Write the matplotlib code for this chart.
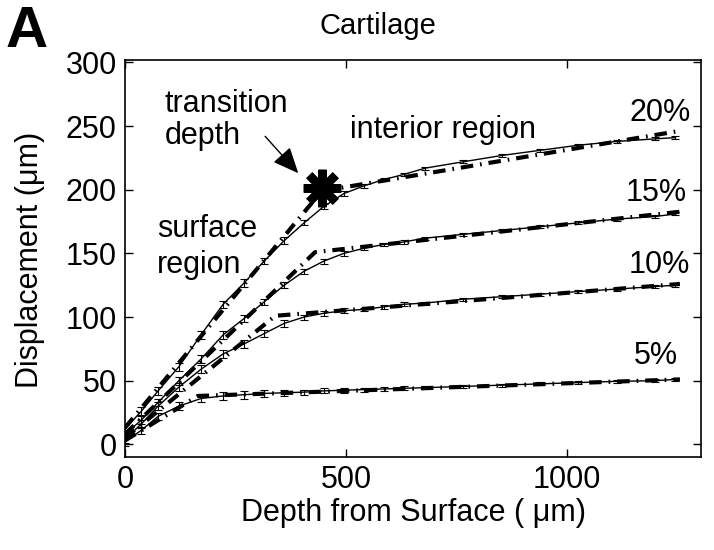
"""Cartilage displacement vs depth, with bilinear fits."""
import matplotlib

matplotlib.use("Agg")
import matplotlib.pyplot as plt

plt.rcParams["font.family"] = ["Liberation Sans", "DejaVu Sans"]
plt.rcParams["lines.scale_dashes"] = False

# Measured displacement (um) at each depth (um)
depth = [0, 37, 75, 122, 172, 222, 270, 315, 360, 405, 450, 495,
         540, 585, 630, 679, 765, 853, 939, 1025, 1113, 1199, 1245]
disp_20 = [12, 26, 42, 61, 86, 110, 127, 144, 160, 174, 187, 197,
           203, 208, 212, 217, 222, 227, 231, 235, 238, 240, 241]
disp_15 = [8, 19, 33, 50, 67, 86, 99, 112, 125, 136, 144, 150,
           154, 157, 159, 162, 165, 168, 171, 174, 177, 179, 181]
disp_10 = [4, 16, 30, 45, 59, 71, 79, 87, 95, 100, 103, 105,
           106, 108, 110, 111, 114, 116, 118, 120, 122, 124, 125]
disp_05 = [2, 11, 22, 30, 36, 38, 39, 40, 40.5, 41, 42, 42.5,
           43, 43.5, 44, 44.5, 45.5, 46.5, 47.5, 48.5, 49.5, 50, 51]
err = [3, 3, 3, 3, 3, 3, 3, 2.5, 2.5, 2, 2, 2, 1.5, 1.5, 1.5,
       1.2, 1.2, 1.2, 1.2, 1.2, 1.2, 1.2, 1.2]

# Bilinear fits: (surface, transition, bottom)
fit_depth_20 = [0, 445, 1250]
fit_disp_20 = [13, 199, 246]
fit_depth_15 = [0, 430, 1262]
fit_disp_15 = [8, 151, 183]
fit_depth_10 = [0, 340, 1255]
fit_disp_10 = [5, 101, 126]
fit_depth_05 = [0, 165, 1255]
fit_disp_05 = [3, 38, 51]

strain_labels = ["20%", "15%", "10%", "5%"]
label_pos = [(1280, 254), (1271, 191), (1278, 135), (1251, 63)]

transition_depth = 446
transition_disp = 201


def main():
    fig = plt.figure(figsize=(7.14, 5.5), dpi=100)
    ax = fig.add_axes([0.175, 0.169, 0.807, 0.722])

    data = [disp_20, disp_15, disp_10, disp_05]
    fits = [(fit_depth_20, fit_disp_20), (fit_depth_15, fit_disp_15),
            (fit_depth_10, fit_disp_10), (fit_depth_05, fit_disp_05)]

    for disp, (fx, fy) in zip(data, fits):
        ax.errorbar(depth, disp, yerr=err, color="black", lw=1.0,
                    elinewidth=0.8, capsize=3, capthick=0.8)
        ax.plot(fx, fy, color="black", lw=3.0,
                linestyle=(0, (9, 5, 1.2, 5)))

    for lab, (x, y) in zip(strain_labels, label_pos):
        ax.text(x, y, lab, fontsize=22, ha="right", va="baseline")

    # transition depth marker
    ax.plot(transition_depth, transition_disp, marker=(8, 2, 0),
            markersize=27, markeredgewidth=6, color="black")
    ax.annotate("", xy=(392, 213), xytext=(317, 242),
                arrowprops=dict(arrowstyle="-|>,head_length=1.6,head_width=0.7",
                                color="black", lw=1.0, shrinkA=0, shrinkB=0))

    ax.text(90, 261, "transition", fontsize=22, va="baseline")
    ax.text(90, 236, "depth", fontsize=22, va="baseline")
    ax.text(72, 163, "surface", fontsize=22, va="baseline")
    ax.text(72, 135, "region", fontsize=22, va="baseline")
    ax.text(509, 241, "interior region", fontsize=22, va="baseline")

    ax.set_xlim(0, 1303)
    ax.set_ylim(-10, 302)
    ax.set_xticks([0, 500, 1000])
    ax.set_yticks([0, 50, 100, 150, 200, 250, 300])
    ax.tick_params(direction="in", top=True, right=True, labelsize=22,
                   length=6, width=1.0, pad=6)
    for s in ax.spines.values():
        s.set_linewidth(1.2)

    ax.set_xlabel("Depth from Surface ( μm)", fontsize=22, labelpad=2)
    fig.text(0.042, 0.527, "Displacement (μm)", fontsize=22,
             rotation=90, ha="center", va="center")
    fig.text(0.53, 0.952, "Cartilage", fontsize=21, ha="center", va="center")
    fig.text(0.008, 0.942, "A", fontsize=42, fontweight="bold",
             ha="left", va="center")

    fig.savefig("out.png", dpi=100)


if __name__ == "__main__":
    main()
